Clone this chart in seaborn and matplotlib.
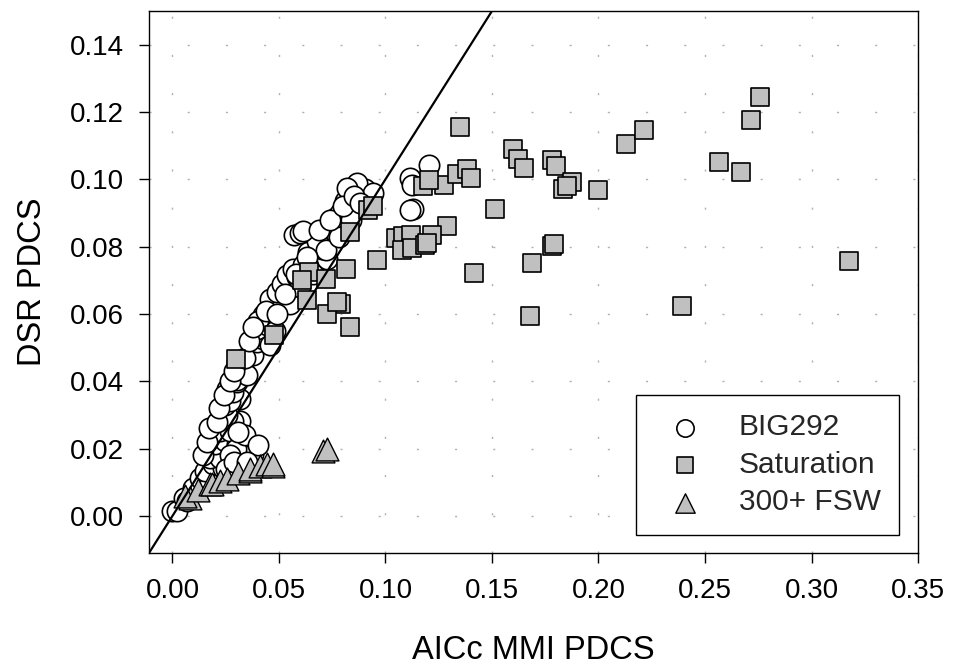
import numpy as np
import pandas as pd
import matplotlib
matplotlib.use('Agg')
import matplotlib.pyplot as plt
import seaborn as sns

# BIG292 (open circles)
big_x = [0.000, 0.0023, 0.0052, 0.0070, 0.0098, 0.0131, 0.0178, 0.0155, 0.0192, 0.0239,
         0.0178, 0.0225, 0.0281, 0.0333, 0.0202, 0.0249, 0.0305, 0.0352, 0.0375, 0.0333,
         0.0380, 0.0188, 0.0225, 0.0272, 0.0319, 0.0286, 0.0258, 0.0249, 0.0281, 0.0319,
         0.0272, 0.0258, 0.0286, 0.0305, 0.0305, 0.0333, 0.0352, 0.0305, 0.0380, 0.0399,
         0.0427, 0.0413, 0.0460, 0.0399, 0.0446, 0.0427, 0.0474, 0.0460, 0.0521, 0.0492,
         0.0553, 0.0516, 0.0540, 0.0586, 0.0568, 0.0614, 0.0661, 0.0727, 0.0638, 0.0704,
         0.0680, 0.0774, 0.0750, 0.0765, 0.0788, 0.0835, 0.0811, 0.0905, 0.0868, 0.0943,
         0.0570, 0.0600, 0.0400, 0.0480, 0.0550, 0.0600, 0.0660, 0.0720, 0.0780, 0.0840,
         0.0820, 0.0615, 0.0145, 0.0160, 0.0170, 0.0210, 0.0220, 0.0240, 0.0270, 0.0290,
         0.0340, 0.0360, 0.0380, 0.0440, 0.0490, 0.0530, 0.0580, 0.0630, 0.0690, 0.0740,
         0.0800, 0.0850, 0.0880, 0.0300, 0.0270, 0.0340, 0.0310, 0.0400, 0.0250, 0.0290,
         0.0350, 0.1205, 0.1116, 0.1126, 0.1130, 0.1115]
big_y = [0.0015, 0.0015, 0.0053, 0.0044, 0.0083, 0.0112, 0.0097, 0.0133, 0.0154, 0.0142,
         0.0171, 0.0171, 0.0171, 0.0171, 0.0213, 0.0222, 0.0213, 0.0201, 0.0192, 0.0183,
         0.0183, 0.0257, 0.0251, 0.0251, 0.0281, 0.0281, 0.0301, 0.0331, 0.0349, 0.0346,
         0.0340, 0.0378, 0.0369, 0.0399, 0.0405, 0.0437, 0.0419, 0.0458, 0.0479, 0.0517,
         0.0526, 0.0538, 0.0508, 0.0555, 0.0567, 0.0597, 0.0606, 0.0644, 0.0635, 0.0665,
         0.0674, 0.0688, 0.0715, 0.0709, 0.0733, 0.0744, 0.0753, 0.0762, 0.0783, 0.0792,
         0.0818, 0.0836, 0.0863, 0.0886, 0.0900, 0.0922, 0.0937, 0.0970, 0.0990, 0.0960,
         0.0836, 0.0840, 0.0580, 0.0550, 0.0630, 0.0680, 0.0720, 0.0790, 0.0830, 0.0880,
         0.0975, 0.0845, 0.0180, 0.0220, 0.0260, 0.0280, 0.0320, 0.0360, 0.0400, 0.0430,
         0.0470, 0.0520, 0.0560, 0.0610, 0.0600, 0.0660, 0.0720, 0.0770, 0.0850, 0.0880,
         0.0920, 0.0950, 0.0930, 0.0200, 0.0180, 0.0240, 0.0250, 0.0210, 0.0140, 0.0160,
         0.0160, 0.1043, 0.1004, 0.0984, 0.0913, 0.0910]

# Saturation (grey squares)
sat_x = [0.1350, 0.1600, 0.1620, 0.1650, 0.1780, 0.1800, 0.1834, 0.1876, 0.1853, 0.2000,
         0.2129, 0.2214, 0.1515, 0.1780, 0.1790, 0.1689, 0.1680, 0.1417, 0.1290, 0.1051,
         0.1083, 0.1121, 0.1079, 0.1126, 0.1187, 0.1220, 0.1196, 0.1177, 0.1276, 0.1337,
         0.1384, 0.1402, 0.1205, 0.0962, 0.2392, 0.2566, 0.2669, 0.2716, 0.2758, 0.3175,
         0.0835, 0.0919, 0.0943, 0.0816, 0.0643, 0.0610, 0.0722, 0.0633, 0.0793, 0.0727,
         0.0835, 0.0774, 0.0478, 0.0300]
sat_y = [0.1155, 0.1090, 0.1061, 0.1034, 0.1058, 0.1040, 0.0972, 0.0993, 0.0981, 0.0969,
         0.1105, 0.1146, 0.0913, 0.0803, 0.0808, 0.0750, 0.0594, 0.0721, 0.0860, 0.0827,
         0.0833, 0.0836, 0.0789, 0.0795, 0.0804, 0.0836, 0.0812, 0.0981, 0.0984, 0.1016,
         0.1031, 0.1004, 0.0999, 0.0759, 0.0623, 0.1052, 0.1022, 0.1176, 0.1244, 0.0756,
         0.0842, 0.0910, 0.0922, 0.0733, 0.0724, 0.0700, 0.0703, 0.0641, 0.0629, 0.0600,
         0.0561, 0.0635, 0.0538, 0.0467]

# 300+ FSW (grey triangles)
fsw_x = [0.0084, 0.0060, 0.0120, 0.0178, 0.0188, 0.0225, 0.0258, 0.0310, 0.0366, 0.0366,
         0.0413, 0.0446, 0.0474, 0.0474, 0.0708, 0.0727]
fsw_y = [0.0053, 0.0060, 0.0078, 0.0095, 0.0095, 0.0103, 0.0109, 0.0127, 0.0133, 0.0139,
         0.0148, 0.0154, 0.0148, 0.0154, 0.0192, 0.0198]

x_ticks = [0.00, 0.05, 0.10, 0.15, 0.20, 0.25, 0.30, 0.35]
y_ticks = [0.00, 0.02, 0.04, 0.06, 0.08, 0.10, 0.12, 0.14]

sns.set_style('white')
plt.rcParams['font.family'] = ['Liberation Sans', 'DejaVu Sans']

fig = plt.figure(figsize=(9.54, 6.66), dpi=100)
ax = fig.add_axes([0.1562, 0.1697, 0.8061, 0.8138])

big = pd.DataFrame({'x': big_x, 'y': big_y})
sat = pd.DataFrame({'x': sat_x, 'y': sat_y})
fsw = pd.DataFrame({'x': fsw_x, 'y': fsw_y})

sns.scatterplot(data=big, x='x', y='y', marker='o', s=215, color='white',
                edgecolor='black', linewidth=1.2, ax=ax, label='BIG292', zorder=3)
sns.scatterplot(data=sat, x='x', y='y', marker='s', s=170, color='#c0c0c0',
                edgecolor='black', linewidth=1.2, ax=ax, label='Saturation', zorder=4)
sns.scatterplot(data=fsw, x='x', y='y', marker='^', s=270, color='#c0c0c0',
                edgecolor='black', linewidth=1.0, ax=ax, label='300+ FSW', zorder=5)

# 1:1 line
ax.plot([-0.02, 0.2], [-0.02, 0.2], color='black', lw=1.6, zorder=6)

ax.set_xlim(-0.011, 0.35)
ax.set_ylim(-0.011, 0.15)
ax.set_xticks(x_ticks)
ax.set_yticks(y_ticks)
ax.set_xticklabels([f'{v:.2f}' for v in x_ticks])
ax.set_yticklabels([f'{v:.2f}' for v in y_ticks])
ax.tick_params(axis='both', direction='out', length=7, width=1, colors='black',
               labelsize=20, bottom=True, left=True)
ax.tick_params(axis='x', pad=11)
ax.tick_params(axis='y', pad=11)

ax.grid(True, color='#b0b0b0', linestyle=(0, (1.5, 26)), linewidth=1.0, zorder=0)
ax.set_axisbelow(True)

for sp in ax.spines.values():
    sp.set_color('black')
    sp.set_linewidth(1.0)

ax.set_xlabel('AICc MMI PDCS', fontsize=23.5, color='black', labelpad=22)
ax.set_ylabel('DSR PDCS', fontsize=23.5, color='black', labelpad=16)

leg = ax.legend(loc='lower right', bbox_to_anchor=(0.9753, 0.0332), fontsize=21.5,
                frameon=True, fancybox=False, edgecolor='black', framealpha=1,
                handlelength=2.0, handletextpad=0.8, borderpad=0.62,
                labelspacing=0.32, borderaxespad=0, markerscale=0.85)
leg.get_frame().set_linewidth(1.0)

fig.savefig('out.png', dpi=100)
